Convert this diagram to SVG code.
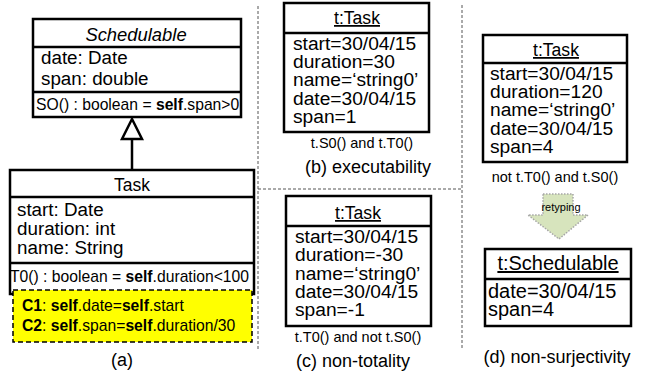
<svg xmlns="http://www.w3.org/2000/svg" width="650" height="379" viewBox="0 0 650 379">
<style>
text{font-family:"Liberation Sans",Arial,sans-serif;fill:#000}
.box{fill:#fff;stroke:#000;stroke-width:2.5}
.ln{stroke:#000;stroke-width:2.5;fill:none}
.sep{stroke:#555;stroke-width:1;stroke-dasharray:3,2;fill:none}
.attr{font-size:18.8px}
.oattr{font-size:19.2px}
.meth{font-size:15.7px}
.cap{font-size:18px;text-anchor:middle}
.cond{font-size:14.5px;text-anchor:middle}
.hd{font-size:17.6px;text-anchor:middle}
.u{text-decoration:underline}
b,.b{font-weight:bold}
</style>
<g id="separators">
<line class="sep" x1="258" y1="6" x2="258" y2="350"/>
<line class="sep" x1="462" y1="5" x2="462" y2="350"/>
<line class="sep" x1="258" y1="189" x2="462" y2="189"/>
</g>
<g id="Schedulable">
<rect class="box" x="33" y="19" width="208" height="98"/>
<line class="ln" x1="33" y1="47" x2="241" y2="47"/>
<line class="ln" x1="33" y1="92" x2="241" y2="92"/>
<text x="136" y="41" font-size="18.4" font-style="italic" text-anchor="middle">Schedulable</text>
<text class="attr" x="41" y="64">date: Date</text>
<text class="attr" x="41" y="85">span: double</text>
<text class="meth" x="36" y="110">SO() : boolean = <tspan class="b">self</tspan>.span&gt;0</text>
</g>
<g id="Task">
<rect class="box" x="10" y="170" width="244" height="124"/>
<line class="ln" x1="10" y1="197" x2="254" y2="197"/>
<line class="ln" x1="10" y1="263" x2="254" y2="263"/>
<text x="132" y="191" font-size="17.5" text-anchor="middle">Task</text>
<text class="attr" x="17" y="216">start: Date</text>
<text class="attr" x="17" y="235">duration: int</text>
<text class="attr" x="17" y="254">name: String</text>
<text class="meth" x="10" y="282">T0() : boolean = <tspan class="b">self</tspan>.duration&lt;100</text>
</g>
<g id="constraints">
<rect x="13" y="290" width="239" height="52" fill="#ffff00" stroke="#000" stroke-width="1.5" stroke-dasharray="5,3"/>
<text class="meth" x="22" y="311"><tspan class="b">C1</tspan>: <tspan class="b">self</tspan>.date=<tspan class="b">self</tspan>.start</text>
<text class="meth" x="22" y="331"><tspan class="b">C2</tspan>: <tspan class="b">self</tspan>.span=<tspan class="b">self</tspan>.duration/30</text>
</g>
<g id="connectors">
<line class="ln" x1="132" y1="139" x2="132" y2="170"/>
<polygon points="132,119 122,139 142,139" fill="#fff" stroke="#000" stroke-width="2.5" stroke-linejoin="miter"/>
<polygon points="543,194 573,194 573,215 588,215 559,239 528,215 543,215" fill="#d7e4bd" stroke="#a6a6a6" stroke-width="1.5" stroke-dasharray="1.5,1.5"/>
<text x="561" y="211" font-size="11" text-anchor="middle">retyping</text>
</g>
<g id="objB">
<rect class="box" x="284" y="3" width="145" height="129"/>
<line class="ln" x1="284" y1="33" x2="429" y2="33"/>
<text class="hd u" x="357" y="24">t:Task</text>
<text class="oattr" x="293" y="50">start=30/04/15</text>
<text class="oattr" x="293" y="68">duration=30</text>
<text class="oattr" x="293" y="86">name=‘string0’</text>
<text class="oattr" x="293" y="105">date=30/04/15</text>
<text class="oattr" x="293" y="123">span=1</text>
<text class="cond" x="362" y="148">t.S0() and t.T0()</text>
<text class="cap" x="368" y="173">(b) executability</text>
</g>
<g id="objC">
<rect class="box" x="286" y="196" width="145" height="130"/>
<line class="ln" x1="286" y1="226" x2="431" y2="226"/>
<text class="hd u" x="358" y="219">t:Task</text>
<text class="oattr" x="295" y="243">start=30/04/15</text>
<text class="oattr" x="295" y="261">duration=-30</text>
<text class="oattr" x="295" y="280">name=‘string0’</text>
<text class="oattr" x="295" y="298">date=30/04/15</text>
<text class="oattr" x="295" y="316">span=-1</text>
<text class="cond" x="358" y="342">t.T0() and not t.S0()</text>
<text class="cap" x="353" y="367">(c) non-totality</text>
</g>
<g id="objD">
<rect class="box" x="483" y="35" width="144" height="127"/>
<line class="ln" x1="483" y1="63" x2="627" y2="63"/>
<text class="hd u" x="556" y="56">t:Task</text>
<text class="oattr" x="490" y="80">start=30/04/15</text>
<text class="oattr" x="490" y="98">duration=120</text>
<text class="oattr" x="490" y="116">name=‘string0’</text>
<text class="oattr" x="490" y="135">date=30/04/15</text>
<text class="oattr" x="490" y="153">span=4</text>
<text class="cond" x="555" y="182">not t.T0() and t.S0()</text>
</g>
<g id="objE">
<rect class="box" x="485" y="249" width="146" height="77"/>
<line class="ln" x1="485" y1="279" x2="631" y2="279"/>
<text class="u" x="558" y="270" font-size="20" text-anchor="middle">t:Schedulable</text>
<text x="488" y="298" font-size="20">date=30/04/15</text>
<text x="488" y="316" font-size="20">span=4</text>
<text class="cap" x="557" y="363">(d) non-surjectivity</text>
</g>
<text class="cap" x="122" y="366">(a)</text>
</svg>
